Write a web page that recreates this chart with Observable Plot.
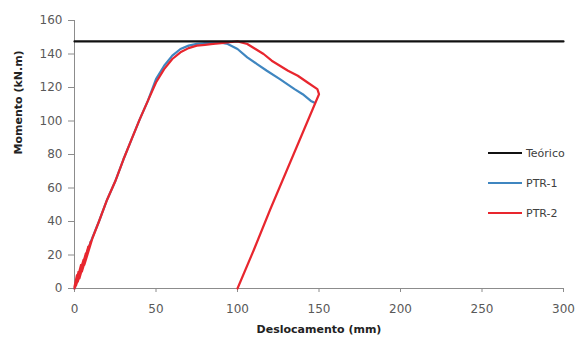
<!DOCTYPE html>
<html>
<head>
<meta charset="utf-8">
<script src="https://cdn.jsdelivr.net/npm/d3@7"></script>
<script src="https://cdn.jsdelivr.net/npm/@observablehq/plot@0.6"></script>
<style>
  html, body { margin: 0; padding: 0; background: #fff; }
  #wrap { position: relative; width: 579px; height: 344px; }
  #legend { position: absolute; left: 488px; top: 138px; font: 11px "DejaVu Sans", sans-serif; color: #404040; }
  .item { display: flex; align-items: center; height: 30px; }
  .sw { width: 34px; height: 2.5px; margin-right: 4px; }
</style>
</head>
<body>
<div id="wrap"><div id="legend"></div></div>
<script>
// Series names and colours
const seriesNames = ["Teórico", "PTR-1", "PTR-2"];
const seriesColors = ["#111111", "#3f86c0", "#e8262e"];

// Teórico (constant theoretical moment)
const teoricoX = [0, 300];
const teoricoY = [147.5, 147.5];

// PTR-1
const ptr1X = [0, 3, 6, 10, 15, 20, 25, 30, 35, 40, 45, 50, 55, 60, 65, 70, 75, 80, 88, 94, 100, 106, 112, 118, 126, 135, 140, 145, 147];
const ptr1Y = [0, 9, 17, 28, 40, 53, 64, 77, 89, 101, 112, 125, 133, 139, 143, 145, 146, 146.5, 147, 146, 143, 138, 134, 130, 125, 119, 116, 112, 111];

// PTR-2 (initial cycles, loading, post-peak, unloading)
const ptr2X = [0, 1.5, 0, 2.5, 0.5, 4, 1, 5.5, 2, 7, 3, 8.5, 4.5, 10, 6, 11, 15, 20, 25, 30, 35, 40, 45, 50, 55, 60, 65, 70, 75, 80, 85, 90, 95, 100, 106, 111, 116, 121, 126, 131, 137, 143, 149, 150, 140, 130, 120, 110, 100];
const ptr2Y = [0, 8, 1, 10, 1, 14, 2, 17, 4, 21, 6, 25, 10, 28, 14, 30, 40, 53, 64, 77, 89, 101, 112, 123, 131, 137, 141, 143.5, 145, 145.5, 146, 146.5, 147, 147.5, 146, 143, 140, 136, 133, 130, 127, 123, 119, 116, 93, 70, 47, 23, 0];

const xTicks = [0, 50, 100, 150, 200, 250, 300];
const yTicks = [0, 20, 40, 60, 80, 100, 120, 140, 160];

const toRows = (xs, ys, s) => xs.map((x, i) => ({x, y: ys[i], s}));
const rows = [
  ...toRows(ptr1X, ptr1Y, "PTR-1"),
  ...toRows(ptr2X, ptr2Y, "PTR-2"),
  ...toRows(teoricoX, teoricoY, "Teórico")
];

const axisColor = "#8c8c8c";
const chart = Plot.plot({
  width: 579,
  height: 344,
  marginLeft: 74,
  marginRight: 16,
  marginTop: 20,
  marginBottom: 56,
  style: { fontFamily: "DejaVu Sans, sans-serif", fontSize: "12px", color: "#595959", background: "#fff" },
  x: { domain: [0, 300], ticks: xTicks, label: null },
  y: { domain: [0, 160], ticks: yTicks, label: null },
  color: { domain: seriesNames, range: seriesColors },
  marks: [
    Plot.axisX({ ticks: xTicks, tickSize: 4, tickPadding: 12, stroke: axisColor, fill: "#595959", fontSize: 12 }),
    Plot.axisY({ ticks: yTicks, tickSize: 6, tickPadding: 6, stroke: axisColor, fill: "#595959", fontSize: 12 }),
    Plot.ruleY([0], { stroke: axisColor }),
    Plot.ruleX([0], { stroke: axisColor }),
    Plot.line(rows, { x: "x", y: "y", z: "s", stroke: "s", strokeWidth: 2.2, strokeLinejoin: "round" }),
    Plot.text(["Deslocamento (mm)"], { frameAnchor: "bottom", dy: 44, fontWeight: "bold", fontSize: 11, fill: "#222" }),
    Plot.text(["Momento (kN.m)"], { frameAnchor: "left", dx: -56, rotate: -90, fontWeight: "bold", fontSize: 11, fill: "#222" })
  ]
});
document.getElementById("wrap").prepend(chart);

const legend = document.getElementById("legend");
seriesNames.forEach((n, i) => {
  const d = document.createElement("div");
  d.className = "item";
  d.innerHTML = `<span class="sw" style="background:${seriesColors[i]}"></span><span>${n}</span>`;
  legend.appendChild(d);
});
</script>
</body>
</html>
